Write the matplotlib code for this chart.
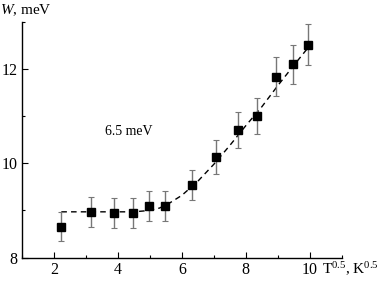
import matplotlib
matplotlib.use("Agg")
import matplotlib.pyplot as plt
from matplotlib.ticker import MultipleLocator

plt.rcParams['font.family'] = ['Liberation Serif', 'DejaVu Serif']
plt.rcParams['mathtext.fontset'] = 'custom'
plt.rcParams['mathtext.rm'] = 'Liberation Serif'
plt.rcParams['mathtext.it'] = 'Liberation Serif:italic'

# measured points
t_sqrt = [2.23, 3.16, 3.87, 4.47, 4.98, 5.48, 6.32, 7.07, 7.74, 8.36, 8.94, 9.49, 9.96]
width = [8.65, 8.96, 8.95, 8.95, 9.10, 9.10, 9.54, 10.13, 10.70, 11.00, 11.84, 12.10, 12.52]
err = [0.31, 0.32, 0.32, 0.32, 0.32, 0.32, 0.32, 0.36, 0.38, 0.38, 0.41, 0.42, 0.43]

# dashed guide line
fit_x = [2.23, 3.5, 4.5, 5.0, 5.3, 5.6, 6.0, 6.5, 7.0, 7.5, 8.0, 8.5, 9.0, 9.5, 10.0]
fit_y = [8.97, 8.97, 8.97, 9.0, 9.05, 9.15, 9.32, 9.62, 9.98, 10.38, 10.8, 11.2, 11.65, 12.08, 12.5]

fig = plt.figure(figsize=(3.82, 2.84), dpi=100)
ax = fig.add_axes([0.0576, 0.0933, 0.837, 0.829])

ax.plot(fit_x, fit_y, color='k', ls=(0, (4, 3)), lw=1.0, zorder=2)
ax.errorbar(t_sqrt, width, yerr=err, fmt='none', ecolor='#777777',
            elinewidth=1.0, capsize=2.5, capthick=0.8, zorder=3)
ax.plot(t_sqrt, width, 's', color='k', ms=6, zorder=4)

ax.text(3.6, 10.6, '6.5 meV', fontsize=10)

ax.set_xlim(1, 11)
ax.set_ylim(8, 13)
ax.xaxis.set_major_locator(MultipleLocator(2))
ax.xaxis.set_minor_locator(MultipleLocator(1))
ax.yaxis.set_major_locator(MultipleLocator(2))
ax.yaxis.set_minor_locator(MultipleLocator(1))
ax.tick_params(which='both', direction='in', labelsize=11.5, width=0.8)
ax.tick_params(which='major', length=4, pad=3)
ax.tick_params(which='minor', length=2)
ax.set_xticks([2, 4, 6, 8, 10])
ax.set_yticks([8, 10, 12])

for s in ['top', 'right']:
    ax.spines[s].set_visible(False)
for s in ['left', 'bottom']:
    ax.spines[s].set_linewidth(1.0)

fig.text(0.843, 0.035, r'T$^{0.5}$, K$^{0.5}$', fontsize=11)
fig.text(0.0, 0.95, r'$\mathit{W}$, meV', fontsize=11)

fig.savefig('out.png', dpi=100)
